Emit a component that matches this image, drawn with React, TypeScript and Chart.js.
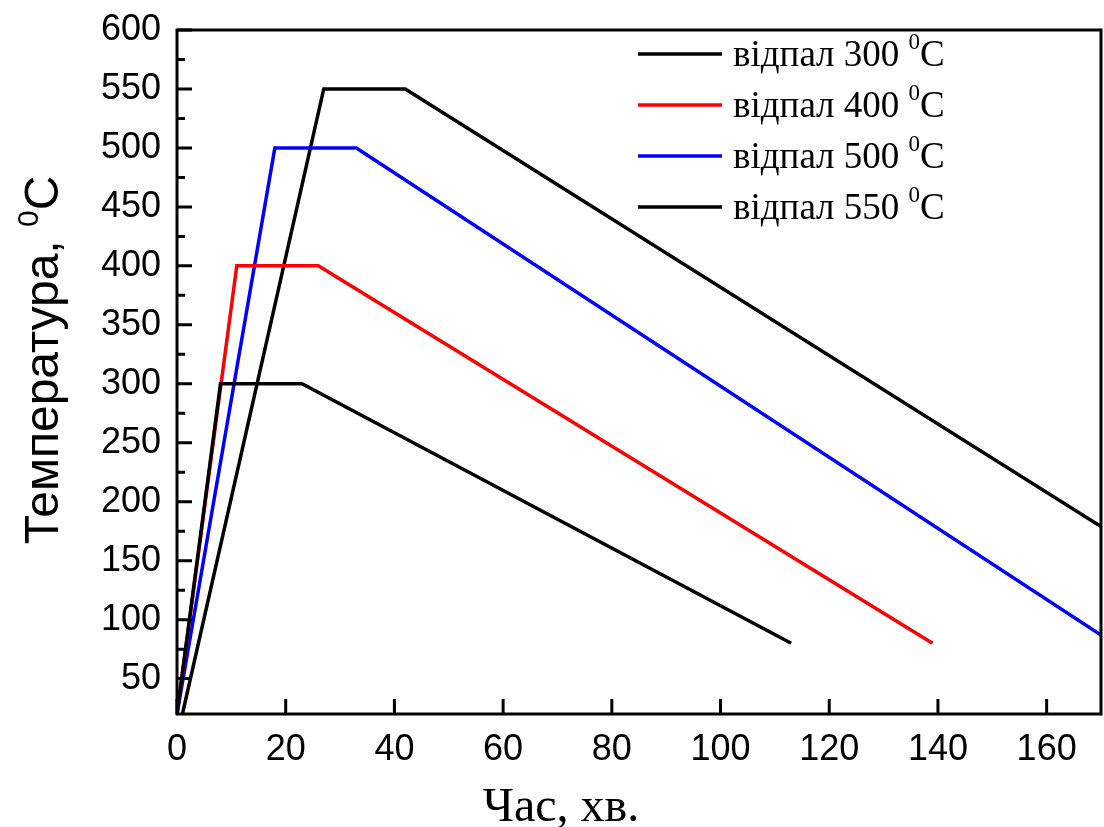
import React, { useEffect, useRef } from "react";
import { Chart, registerables } from "chart.js";

Chart.register(...registerables);

const labels = ["відпал 300", "відпал 400", "відпал 500", "відпал 550"];
const colors = ["#000000", "#ff0000", "#0000ff", "#000000"];

const time300 = [0, 8, 23, 113];
const temp300 = [20, 300, 300, 80];
const time400 = [0, 11, 26, 139];
const temp400 = [20, 400, 400, 80];
const time500 = [0, 18, 33, 170];
const temp500 = [20, 500, 500, 87];
const time550 = [1, 27, 42, 170];
const temp550 = [20, 550, 550, 179];

const xTicks = [0, 20, 40, 60, 80, 100, 120, 140, 160];
const yTicks = [50, 100, 150, 200, 250, 300, 350, 400, 450, 500, 550, 600];
const yMinorTicks = [75, 125, 175, 225, 275, 325, 375, 425, 475, 525, 575];

const xTitle = "Час, хв.";
const yTitle = "Температура, ";

const toPoints = (xs: number[], ys: number[]) => xs.map((x, i) => ({ x, y: ys[i] }));

const framePlugin = {
  id: "frame",
  afterDraw(chart: any) {
    const ctx = chart.ctx as CanvasRenderingContext2D;
    const { left, right, top, bottom } = chart.chartArea;
    const xs = chart.scales.x;
    const ys = chart.scales.y;
    ctx.save();
    ctx.strokeStyle = "#000";
    ctx.lineWidth = 3;
    ctx.strokeRect(left, top, right - left, bottom - top);
    ctx.lineWidth = 3;
    ctx.beginPath();
    for (const v of yTicks) {
      const p = ys.getPixelForValue(v);
      ctx.moveTo(left, p);
      ctx.lineTo(left + 15, p);
    }
    for (const v of yMinorTicks) {
      const p = ys.getPixelForValue(v);
      ctx.moveTo(left, p);
      ctx.lineTo(left + 8, p);
    }
    for (const v of xTicks) {
      const p = xs.getPixelForValue(v);
      ctx.moveTo(p, bottom);
      ctx.lineTo(p, bottom - 15);
    }
    ctx.stroke();

    // y title with superscript
    ctx.fillStyle = "#000";
    ctx.save();
    ctx.translate(58, 360);
    ctx.rotate(-Math.PI / 2);
    ctx.font = "48px 'Liberation Sans', Arial, sans-serif";
    ctx.textBaseline = "alphabetic";
    const w1 = ctx.measureText(yTitle).width;
    ctx.font = "30px 'Liberation Sans', Arial, sans-serif";
    const w2 = ctx.measureText("0").width;
    ctx.font = "48px 'Liberation Sans', Arial, sans-serif";
    const w3 = ctx.measureText("C").width;
    const total = w1 + w2 + w3;
    const x0 = -total / 2;
    ctx.fillText(yTitle, x0, 0);
    ctx.font = "30px 'Liberation Sans', Arial, sans-serif";
    ctx.fillText("0", x0 + w1, -20);
    ctx.font = "48px 'Liberation Sans', Arial, sans-serif";
    ctx.fillText("C", x0 + w1 + w2, 0);
    ctx.restore();

    // x title
    ctx.font = "48px 'Liberation Serif', 'Times New Roman', serif";
    ctx.textAlign = "center";
    ctx.textBaseline = "alphabetic";
    ctx.fillText(xTitle, 561, 821);

    // legend
    ctx.textAlign = "left";
    chart.data.datasets.forEach((ds: any, i: number) => {
      const y = 54 + i * 51;
      ctx.strokeStyle = ds.borderColor;
      ctx.lineWidth = 3.5;
      ctx.beginPath();
      ctx.moveTo(638, y);
      ctx.lineTo(722, y);
      ctx.stroke();
      ctx.fillStyle = "#000";
      ctx.textBaseline = "middle";
      ctx.font = "37px 'Liberation Serif', 'Times New Roman', serif";
      const t = ds.label + " ";
      const tw = ctx.measureText(t).width;
      ctx.fillText(t, 733, y + 2);
      ctx.font = "23px 'Liberation Serif', 'Times New Roman', serif";
      const sw = ctx.measureText("0").width;
      ctx.fillText("0", 733 + tw, y - 11);
      ctx.font = "37px 'Liberation Serif', 'Times New Roman', serif";
      ctx.fillText("C", 733 + tw + sw, y + 2);
    });
    ctx.restore();
  },
};

export default function App() {
  const ref = useRef<HTMLCanvasElement>(null);
  useEffect(() => {
    document.body.style.margin = "0";
    const series = [
      toPoints(time300, temp300),
      toPoints(time400, temp400),
      toPoints(time500, temp500),
      toPoints(time550, temp550),
    ];
    const chart = new Chart(ref.current!, {
      type: "line",
      data: {
        datasets: series.map((d, i) => ({
          label: labels[i],
          data: d,
          borderColor: colors[i],
          backgroundColor: colors[i],
          borderWidth: 3.5,
          pointRadius: 0,
          tension: 0,
          fill: false,
        })),
      },
      options: {
        responsive: false,
        animation: false,
        layout: { padding: { top: 30, right: 3, left: 0, bottom: 0 } },
        plugins: { legend: { display: false }, tooltip: { enabled: false } },
        scales: {
          x: {
            type: "linear",
            min: 0,
            max: 170,
            grid: { display: false },
            border: { display: false },
            afterBuildTicks: (s: any) => {
              s.ticks = xTicks.map((v) => ({ value: v }));
            },
            afterFit: (s: any) => {
              s.height = 113;
              s.paddingLeft = 0;
              s.paddingRight = 0;
            },
            ticks: {
              color: "#000",
              padding: 6,
              maxRotation: 0,
              autoSkip: false,
              font: { family: "'Liberation Sans', Arial, sans-serif", size: 36 },
            },
          },
          y: {
            type: "linear",
            min: 20,
            max: 600,
            grid: { display: false },
            border: { display: false },
            afterBuildTicks: (s: any) => {
              s.ticks = yTicks.map((v) => ({ value: v }));
            },
            afterFit: (s: any) => {
              s.width = 177;
              s.paddingTop = 0;
              s.paddingBottom = 0;
            },
            ticks: {
              color: "#000",
              padding: 8,
              autoSkip: false,
              font: { family: "'Liberation Sans', Arial, sans-serif", size: 36 },
            },
          },
        },
      },
      plugins: [framePlugin],
    });
    return () => chart.destroy();
  }, []);
  return (
    <div style={{ width: 1104, height: 827 }}>
      <canvas ref={ref} width={1104} height={827} />
    </div>
  );
}
